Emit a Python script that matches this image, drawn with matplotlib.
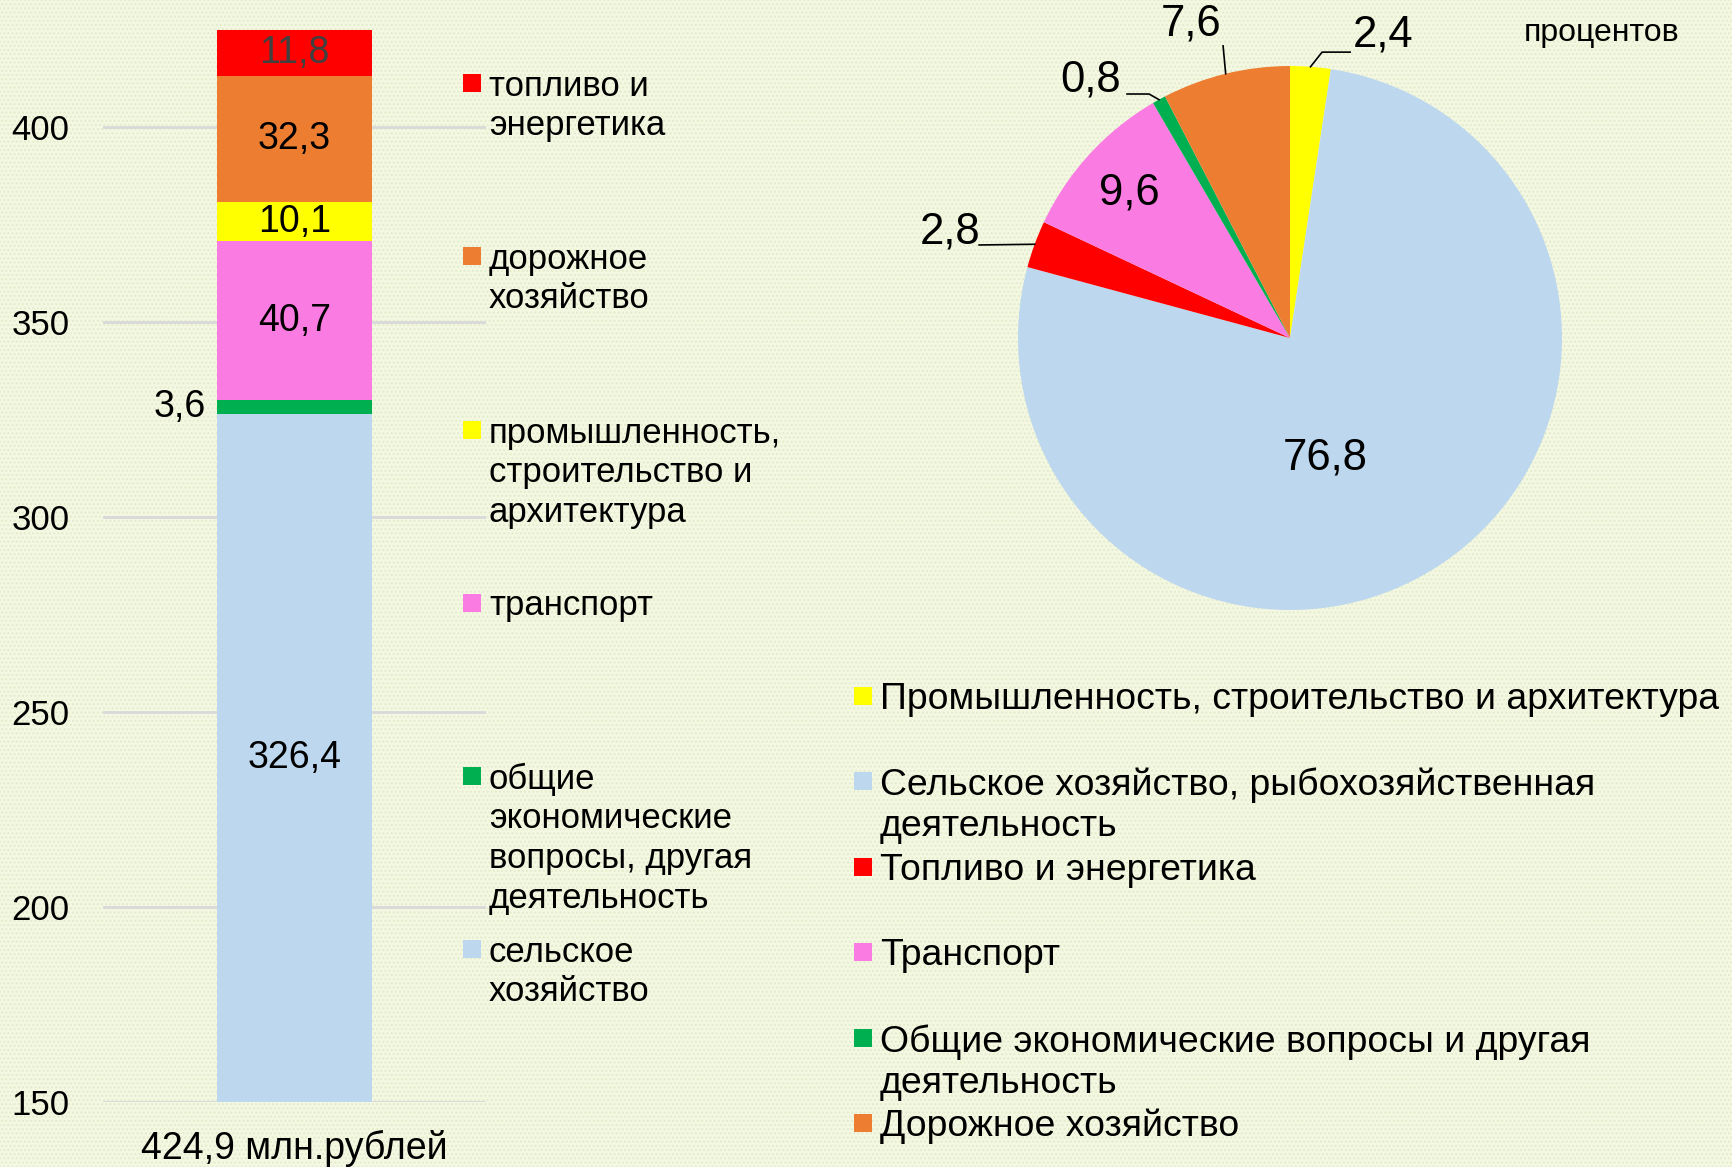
import matplotlib
matplotlib.use('Agg')
import matplotlib.pyplot as plt
from matplotlib.patches import Rectangle
import numpy as np

plt.rcParams['font.family'] = ['Liberation Sans', 'DejaVu Sans']
plt.rcParams['hatch.linewidth'] = 1.0

# stacked bar: bottom -> top, million rubles
bar_labels = ['сельское\nхозяйство',
              'общие\nэкономические\nвопросы, другая\nдеятельность',
              'транспорт',
              'промышленность,\nстроительство и\nархитектура',
              'дорожное\nхозяйство',
              'топливо и\nэнергетика']
bar_values = [326.4, 3.6, 40.7, 10.1, 32.3, 11.8]
bar_colors = ['#BDD7EE', '#00B050', '#FA7CE2', '#FFFF00', '#ED7D31', '#FF0000']
bar_category = '424,9 млн.рублей'

# pie: percent shares, clockwise from the top
pie_labels = ['Промышленность, строительство и архитектура',
              'Сельское хозяйство, рыбохозяйственная\nдеятельность',
              'Топливо и энергетика',
              'Транспорт',
              'Общие экономические вопросы и другая\nдеятельность',
              'Дорожное хозяйство']
pie_values = [2.4, 76.8, 2.8, 9.6, 0.8, 7.6]
pie_colors = ['#FFFF00', '#BDD7EE', '#FF0000', '#FA7CE2', '#00B050', '#ED7D31']

def fmt(v):
    return f'{v:.1f}'.replace('.', ',')

fig = plt.figure(figsize=(17.32, 11.67), dpi=100)
fig.patch.set_facecolor('#F3F7E3')
fig.patches.append(Rectangle((0, 0), 1, 1, transform=fig.transFigure,
                             facecolor='#F4F8E2', edgecolor='#E2ECCB',
                             hatch='....', linewidth=0, zorder=-10))

# ---- bar chart ----
ax = fig.add_axes([0.0595, 0.0557, 0.2211, 0.929])
ax.set_facecolor('none')
ymin, ymax = 150, 428
bottom = 0
for v, c in zip(bar_values, bar_colors):
    ax.bar(0, v, bottom=bottom, width=0.81, color=c, zorder=3)
    bottom += v
ax.set_xlim(-1, 1)
ax.set_ylim(ymin, ymax)
ax.set_yticks([150, 200, 250, 300, 350, 400])
ax.yaxis.grid(True, color='#D9D9D9', linewidth=2, zorder=0)
for s in ax.spines.values():
    s.set_visible(False)
ax.tick_params(axis='y', length=0, pad=24, labelsize=25)
ax.set_xticks([0], [bar_category])
ax.tick_params(axis='x', length=0, pad=20, labelsize=27)

bottom = 0
for i, v in enumerate(bar_values):
    mid = (max(bottom, ymin) + bottom + v) / 2
    if v < 5:
        ax.annotate(fmt(v), (-0.405, mid), xytext=(-8, 0), textcoords='offset points',
                    ha='right', va='center', fontsize=27, zorder=4)
    else:
        col = '#404040' if i == len(bar_values) - 1 else 'black'
        ax.text(0, mid, fmt(v), ha='center', va='center', fontsize=27, color=col, zorder=4)
    bottom += v

# bar legend (top entry first)
leg_y = [83, 256, 430, 603, 776, 949]
for k, (lab, c) in enumerate(zip(bar_labels[::-1], bar_colors[::-1])):
    yf = 1 - leg_y[k] / 1167
    fig.patches.append(Rectangle((463 / 1732, yf - 9 / 1167), 18 / 1732, 18 / 1167,
                                 transform=fig.transFigure, facecolor=c, linewidth=0))
    fig.text(489 / 1732, yf + 13.5 / 1167, lab, ha='left', va='top', fontsize=25,
             linespacing=1.26)

# ---- pie chart ----
cx, cy, R = 1290, 338, 272
pax = fig.add_axes([(cx - 400) / 1732, 1 - (cy + 400) / 1167, 800 / 1732, 800 / 1167])
wedges, _ = pax.pie(pie_values, colors=pie_colors, startangle=90, counterclock=False,
                    radius=1, wedgeprops=dict(linewidth=0))
lim = 400 / R
pax.set_xlim(-lim, lim)
pax.set_ylim(-lim, lim)
pax.set_aspect('equal')
pax.axis('off')

# label placement (pie units) and leader elbows
label_pos = [(0.342, 1.114), (0.129, -0.441), (-1.25, 0.39),
             (-0.592, 0.533), (-0.732, 0.949), (-0.364, 1.154)]
leaders = [[(0.118, 1.051), (0.221, 1.051)], None, [(-1.143, 0.342)],
           None, [(-0.518, 0.897), (-0.599, 0.897)], [(-0.246, 1.074)]]
for w, v, pos, ld in zip(wedges, pie_values, label_pos, leaders):
    pax.text(pos[0], pos[1], fmt(v), ha='center', va='center', fontsize=31.5)
    if ld:
        ang = np.deg2rad((w.theta1 + w.theta2) / 2)
        pts = [(np.cos(ang), np.sin(ang))] + ld
        xs, ys = zip(*pts)
        pax.plot(xs, ys, color='black', linewidth=1.2)

fig.text(1602 / 1732, 1 - 33 / 1167, 'процентов', ha='center', va='center', fontsize=23)

# pie legend
pleg_y = [696, 781, 867, 952, 1038, 1123]
for k, (lab, c) in enumerate(zip(pie_labels, pie_colors)):
    yf = 1 - pleg_y[k] / 1167
    fig.patches.append(Rectangle((854 / 1732, yf - 9 / 1167), 18 / 1732, 18 / 1167,
                                 transform=fig.transFigure, facecolor=c, linewidth=0))
    fig.text(880 / 1732, yf + 14 / 1167, lab, ha='left', va='top', fontsize=26.9,
             linespacing=1.23)

fig.savefig('out.png', dpi=100, facecolor=fig.get_facecolor())
